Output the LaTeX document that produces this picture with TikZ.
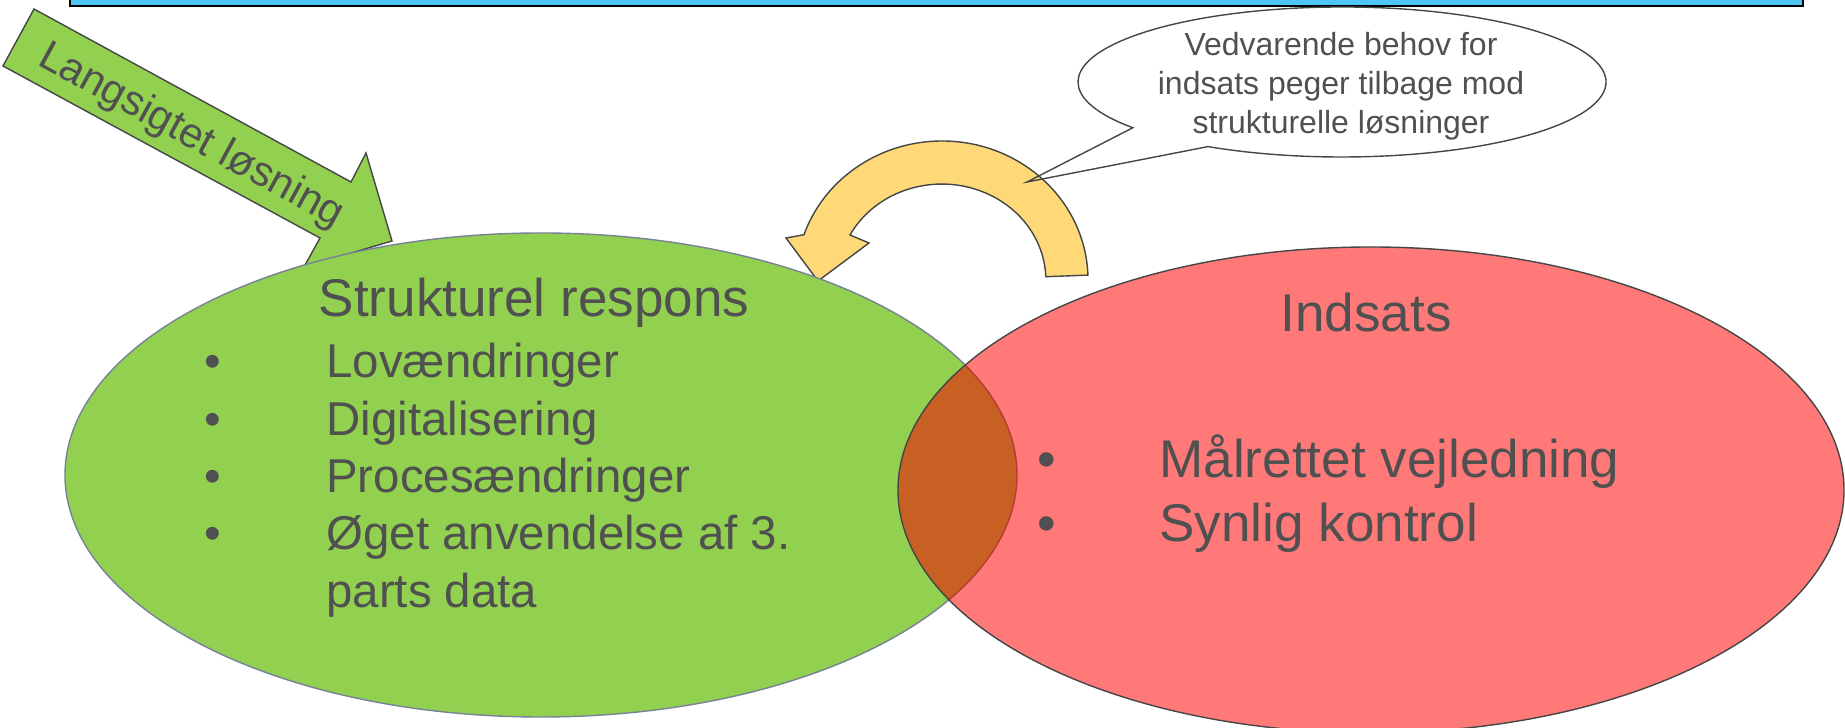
\documentclass[tikz,border=0pt]{standalone}
\usepackage{fontspec}
\setmainfont{Liberation Sans}
\usepackage{tikz}
\usepackage{xcolor}
\usetikzlibrary{shapes.geometric, positioning}

\definecolor{barblue}{RGB}{77,199,242}
\definecolor{leafgreen}{RGB}{146,208,80}
\definecolor{softred}{RGB}{255,121,121}
\definecolor{overlapbrown}{RGB}{200,96,36}
\definecolor{overlapedge}{RGB}{180,60,50}
\definecolor{goldyellow}{RGB}{255,217,120}
\definecolor{textgray}{RGB}{80,80,80}
\definecolor{edgegray}{RGB}{70,70,70}
\definecolor{edgeblue}{RGB}{120,130,150}

\begin{document}
\begin{tikzpicture}

    % Define style for different elements
    \tikzstyle{headtext} = [text=textgray, font=\fontsize{30.2pt}{36pt}\selectfont, inner sep=0pt, anchor=base]
    \tikzstyle{greenitems} = [text=textgray, font=\fontsize{27pt}{32.6pt}\selectfont, inner sep=0pt, anchor=base west]
    \tikzstyle{reditems} = [text=textgray, font=\fontsize{30.2pt}{36.4pt}\selectfont, inner sep=0pt, anchor=base west]
    \tikzstyle{bubbletext} = [text=textgray, font=\fontsize{18.2pt}{22.2pt}\selectfont, align=center, inner sep=0pt]
    \tikzstyle{arrowtext} = [text=textgray, font=\fontsize{23.9pt}{28pt}\selectfont, inner sep=0pt, text depth=0pt, rotate=-28.6]
    \tikzstyle{shapeline} = [draw=edgegray, line width=0.8pt]

    % Frame and top bar
    \useasboundingbox (0,0) rectangle (36.9,14.56);
    \clip (0,0) rectangle (36.9,14.56);
    \draw [fill=barblue, line width=1.2pt] (1.4,14.44) rectangle (36.06,15.5);

    % Centres
    \coordinate (gc) at (10.82,5.06);
    \coordinate (rc) at (27.42,4.76);
    \coordinate (ac) at (18.84,8.96);
    \coordinate (bc) at (26.84,12.92);
    \coordinate (tip) at (20.54,10.92);

    % Long term arrow
    \draw [shapeline, fill=leafgreen] (0.68,14.38) -- (7.02,10.92) -- (7.32,11.5) -- (7.84,9.74) -- (6.08,9.22) -- (6.40,9.80) -- (0.06,13.24) -- cycle;

    % Curved arrow back to the structural side
    \draw [shapeline, fill=goldyellow] (ac) ++(2:2.92 and 2.78) arc [start angle=2, end angle=161, x radius=2.92, y radius=2.78] -- (15.72,9.8) -- (16.36,8.94) -- (17.38,9.7) -- (17.00,9.86) arc [start angle=152, end angle=2, x radius=2.08, y radius=1.92] -- cycle;

    % Callout
    \draw [shapeline] (bc) ++(239.5:5.28 and 1.5) arc [start angle=239.5, end angle=577.6, x radius=5.28, y radius=1.5] -- (tip) -- cycle;

    % Sets
    \draw [fill=leafgreen, draw=edgeblue, line width=0.8pt] (gc) ellipse [x radius=9.52, y radius=4.84];
    \fill [softred] (rc) ellipse [x radius=9.46, y radius=4.86];
    \begin{scope}
        \clip (gc) ellipse [x radius=9.52, y radius=4.84];
        \fill [overlapbrown] (rc) ellipse [x radius=9.46, y radius=4.86];
    \end{scope}
    \begin{scope}
        \clip (rc) ellipse [x radius=9.46, y radius=4.86];
        \draw [overlapedge, line width=0.8pt] (gc) ellipse [x radius=9.52, y radius=4.84];
    \end{scope}
    \draw [shapeline] (rc) ellipse [x radius=9.46, y radius=4.86];

    % Place nodes
    \node (longterm) [arrowtext] at (3.86,11.91) {Langsigtet løsning};
    \node (strtitle) [headtext] at (10.68,8.22) {Strukturel respons};
    \node (indtitle) [headtext] at (27.32,7.92) {Indsats};
    \node (strlist) [greenitems] at (4.08,7.0) {\begin{tabular}[t]{@{}p{2.44cm}@{}l@{}}
        • & Lovændringer\\
        • & Digitalisering\\
        • & Procesændringer\\
        • & Øget anvendelse af 3.\\
          & parts data
    \end{tabular}};
    \node (indlist) [reditems] at (20.74,5.0) {\begin{tabular}[t]{@{}p{2.44cm}@{}l@{}}
        • & Målrettet vejledning\\
        • & Synlig kontrol
    \end{tabular}};
    \node (bubble) [bubbletext] at (26.82,12.84) {Vedvarende behov for\\indsats peger tilbage mod\\strukturelle løsninger};

\end{tikzpicture}
\end{document}
